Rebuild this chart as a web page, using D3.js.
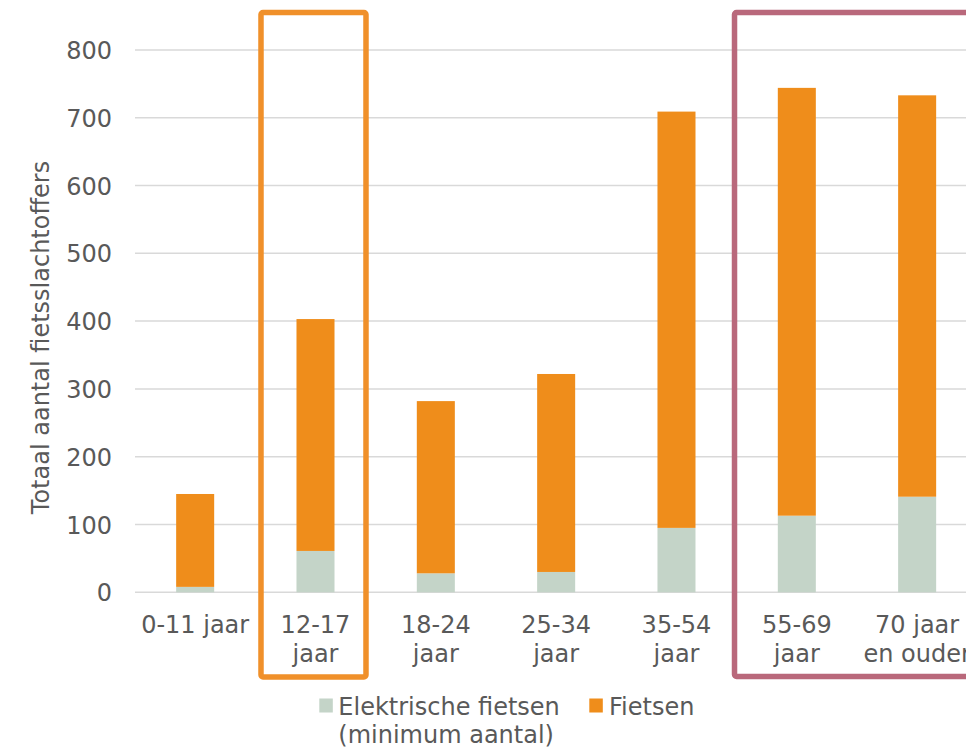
<!DOCTYPE html>
<html>
<head>
<meta charset="utf-8">
<script src="https://cdn.jsdelivr.net/npm/d3@7"></script>
<style>
  html, body { margin: 0; padding: 0; background: #fff; }
  svg { display: block; }
  text { font-family: "DejaVu Sans", Verdana, sans-serif; fill: #595959; }
</style>
</head>
<body>
<svg id="chart" width="966" height="749"></svg>
<script>
// ---- data ----
const categories = ["0-11 jaar", "12-17 jaar", "18-24 jaar", "25-34 jaar", "35-54 jaar", "55-69 jaar", "70 jaar en ouder"];
const categoryLines = [["0-11 jaar"], ["12-17", "jaar"], ["18-24", "jaar"], ["25-34", "jaar"], ["35-54", "jaar"], ["55-69", "jaar"], ["70 jaar", "en ouder"]];
const elektrisch = [8, 61, 28, 30, 95, 113, 141];
const fietsen = [137, 342, 254, 292, 614, 631, 592];
const yTicks = [0, 100, 200, 300, 400, 500, 600, 700, 800];
const seriesNames = ["Elektrische fietsen", "Fietsen"];
const seriesSub = ["(minimum aantal)", ""];
const yTitle = "Totaal aantal fietsslachtoffers";
const highlightOrange = ["12-17 jaar"];
const highlightMagenta = ["55-69 jaar", "70 jaar en ouder"];

// ---- styles ----
const colElek = "#c4d4c8";
const colFiets = "#ef8d1b";
const colOrangeBox = "#f0902a";
const colMagentaBox = "#b9687b";
const colGrid = "#d9d9d9";
const fontSize = 24;

const svg = d3.select("#chart");

const plotLeft = 135, step = 120.33;
const x = d3.scaleBand()
  .domain(categories)
  .range([plotLeft, plotLeft + step * categories.length])
  .paddingInner(0.684)
  .paddingOuter(0.342);

const y = d3.scaleLinear().domain([0, 800]).range([592.3, 49.9]);

// gridlines
svg.append("g").selectAll("line")
  .data(yTicks).join("line")
  .attr("x1", plotLeft).attr("x2", 966)
  .attr("y1", d => y(d)).attr("y2", d => y(d))
  .attr("stroke", colGrid).attr("stroke-width", 1.5);

// y axis labels
const yAxis = d3.axisLeft(y).tickValues(yTicks).tickSize(0).tickPadding(0);
const yg = svg.append("g").attr("transform", `translate(112,0)`).call(yAxis);
yg.select(".domain").remove();
yg.selectAll("text")
  .style("font-size", fontSize + "px")
  .style("font-family", '"DejaVu Sans", Verdana, sans-serif')
  .attr("fill", "#595959")
  .attr("dy", "0.36em");

// y title
svg.append("text")
  .attr("transform", `translate(49,337.5) rotate(-90)`)
  .attr("text-anchor", "middle")
  .style("font-size", fontSize + "px")
  .text(yTitle);

// stacked bars
const rows = categories.map((c, i) => ({ cat: c, elek: elektrisch[i], fiets: fietsen[i] }));
const stack = d3.stack().keys(["elek", "fiets"])(rows);
const colors = { elek: colElek, fiets: colFiets };
svg.append("g").selectAll("g")
  .data(stack).join("g")
  .attr("fill", d => colors[d.key])
  .selectAll("rect")
  .data(d => d).join("rect")
  .attr("x", d => x(d.data.cat))
  .attr("width", x.bandwidth())
  .attr("y", d => y(d[1]))
  .attr("height", d => y(d[0]) - y(d[1]));

// x labels
const xl = svg.append("g");
categories.forEach((c, i) => {
  const cx = x(c) + x.bandwidth() / 2;
  const t = xl.append("text")
    .attr("text-anchor", "middle")
    .style("font-size", fontSize + "px");
  categoryLines[i].forEach((line, j) => {
    t.append("tspan").attr("x", cx).attr("y", 633 + j * 29).text(line);
  });
});

// highlight boxes
const cO = x(highlightOrange[0]) + x.bandwidth() / 2;
svg.append("rect")
  .attr("x", cO - 54.5).attr("y", 12.5)
  .attr("width", 105).attr("height", 664.5)
  .attr("rx", 2)
  .attr("fill", "none").attr("stroke", colOrangeBox).attr("stroke-width", 5.5);

const cM = x(highlightMagenta[0]) + x.bandwidth() / 2;
svg.append("rect")
  .attr("x", cM - 62.3).attr("y", 12.5)
  .attr("width", 300).attr("height", 664)
  .attr("rx", 2)
  .attr("fill", "none").attr("stroke", colMagentaBox).attr("stroke-width", 5.5);

// legend
const leg = svg.append("g");
const legItems = [
  { sq: 319.3, tx: 338.3, color: colElek, i: 0 },
  { sq: 589.3, tx: 609, color: colFiets, i: 1 }
];
legItems.forEach(it => {
  leg.append("rect").attr("x", it.sq).attr("y", 698.5).attr("width", 13.5).attr("height", 14).attr("fill", it.color);
  const t = leg.append("text").style("font-size", fontSize + "px");
  t.append("tspan").attr("x", it.tx).attr("y", 715).text(seriesNames[it.i]);
  if (seriesSub[it.i]) t.append("tspan").attr("x", it.tx).attr("y", 743).text(seriesSub[it.i]);
});
</script>
</body>
</html>
